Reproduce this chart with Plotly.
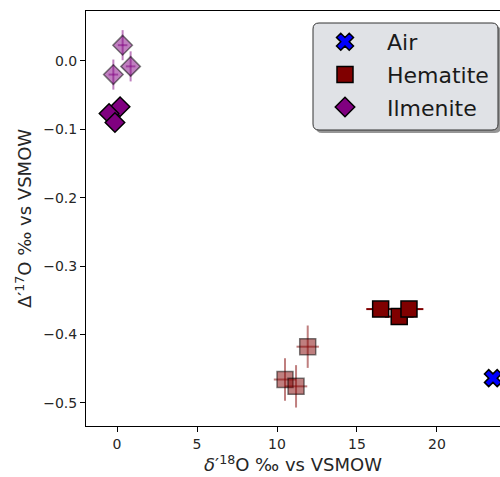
import plotly.graph_objects as go

# ---- data ----
air_x = [23.5]
air_y = [-0.464]

hem_x = [16.48, 17.64, 18.25]
hem_y = [-0.363, -0.374, -0.363]
hem_xerr = [0.9, 0.9, 0.9]
hem_yerr = [0.005, 0.005, 0.005]

hem_lt_x = [11.92, 10.50, 11.19]
hem_lt_y = [-0.418, -0.466, -0.476]
hem_lt_xerr = [0.7, 0.7, 0.7]
hem_lt_yerr = [0.031, 0.031, 0.031]

ilm_x = [0.19, -0.50, -0.13]
ilm_y = [-0.067, -0.077, -0.090]

ilm_lt_x = [0.35, -0.23, 0.85]
ilm_lt_y = [0.023, -0.020, -0.008]
ilm_lt_xerr = [0.3, 0.3, 0.3]
ilm_lt_yerr = [0.022, 0.022, 0.022]

x_ticks = [0, 5, 10, 15, 20]
y_ticks = [0.0, -0.1, -0.2, -0.3, -0.4, -0.5]
y_tick_labels = ["0.0", "\u22120.1", "\u22120.2", "\u22120.3", "\u22120.4", "\u22120.5"]

FONT = "DejaVu Sans"
fig = go.Figure()

# light (transparent) hematite
fig.add_trace(go.Scatter(
    x=hem_lt_x, y=hem_lt_y, mode="markers", showlegend=False,
    error_x=dict(type="data", array=hem_lt_xerr, color="rgba(128,0,0,0.5)", thickness=2, width=0),
    error_y=dict(type="data", array=hem_lt_yerr, color="rgba(128,0,0,0.5)", thickness=2, width=0),
    marker=dict(symbol="square", size=16, color="rgba(128,0,0,0.5)",
                line=dict(color="rgba(0,0,0,0.5)", width=1.5)),
))
# light ilmenite
fig.add_trace(go.Scatter(
    x=ilm_lt_x, y=ilm_lt_y, mode="markers", showlegend=False,
    error_x=dict(type="data", array=ilm_lt_xerr, color="rgba(128,0,128,0.5)", thickness=2, width=0),
    error_y=dict(type="data", array=ilm_lt_yerr, color="rgba(128,0,128,0.5)", thickness=2, width=0),
    marker=dict(symbol="diamond", size=15, color="rgba(128,0,128,0.5)",
                line=dict(color="rgba(0,0,0,0.5)", width=1.5)),
))
# Air
fig.add_trace(go.Scatter(
    x=air_x, y=air_y, mode="markers", name="Air", legendgroup="a",
    marker=dict(symbol="x", size=15, color="#0000ff", line=dict(color="black", width=1.5)),
))
# Hematite
fig.add_trace(go.Scatter(
    x=hem_x, y=hem_y, mode="markers", name="Hematite", legendgroup="h",
    error_x=dict(type="data", array=hem_xerr, color="#800000", thickness=2, width=0),
    error_y=dict(type="data", array=hem_yerr, color="#800000", thickness=2, width=0),
    marker=dict(symbol="square", size=16, color="#800000", line=dict(color="black", width=1.5)),
))
# Ilmenite
fig.add_trace(go.Scatter(
    x=ilm_x, y=ilm_y, mode="markers", name="Ilmenite", legendgroup="i",
    marker=dict(symbol="diamond", size=15, color="#800080", line=dict(color="black", width=1.5)),
))

# plot-area geometry in pixels (for legend box)
L, T, W, H = 86, 11, 414, 415
def px(xp): return (xp - L) / W
def py(yp): return (T + H - yp) / H

def rrect(x0, y0, x1, y1, r):
    rx, ry = r / W, r / H
    X0, X1, Y0, Y1 = px(x0), px(x1), py(y1), py(y0)  # Y0 bottom, Y1 top
    return (f"M {X0+rx},{Y1} L {X1-rx},{Y1} Q {X1},{Y1} {X1},{Y1-ry} "
            f"L {X1},{Y0+ry} Q {X1},{Y0} {X1-rx},{Y0} L {X0+rx},{Y0} "
            f"Q {X0},{Y0} {X0},{Y0+ry} L {X0},{Y1-ry} Q {X0},{Y1} {X0+rx},{Y1} Z")

shapes = [
    dict(type="path", xref="paper", yref="paper", layer="above",
         path=rrect(316, 26, 501, 133, 6), fillcolor="rgba(80,80,80,0.6)", line=dict(width=0)),
    dict(type="path", xref="paper", yref="paper", layer="above",
         path=rrect(313, 23, 498, 130, 6), fillcolor="#e0e2e6", line=dict(color="#333333", width=1)),
]

fig.update_layout(
    width=500, height=477,
    margin=dict(l=L, r=0, t=T, b=477 - T - H, autoexpand=False),
    paper_bgcolor="white", plot_bgcolor="white",
    font=dict(family=FONT, color="#262626", size=14),
    shapes=shapes,
    showlegend=True,
    legend=dict(x=px(303), y=py(21), xanchor="left", yanchor="top",
                bgcolor="rgba(0,0,0,0)", borderwidth=0,
                font=dict(family=FONT, size=22, color="#1a1a1a"),
                itemwidth=74, tracegroupgap=1, traceorder="grouped"),
)
fig.update_xaxes(
    range=[-1.94, 23.94], tickvals=x_ticks, ticks="outside", ticklen=5, tickwidth=1,
    tickcolor="black", showline=True, linecolor="black", linewidth=1, mirror=True,
    showgrid=False, zeroline=False, tickfont=dict(size=14), automargin=False,
    title=dict(text="<i>δ</i>\u2032<sup>18</sup>O \u2030 vs VSMOW", font=dict(size=18), standoff=4),
)
fig.update_yaxes(
    range=[-0.534, 0.073], tickvals=y_ticks, ticktext=y_tick_labels, ticks="outside",
    ticklen=5, tickwidth=1, tickcolor="black", showline=True, linecolor="black",
    linewidth=1, mirror=False, showgrid=False, zeroline=False, tickfont=dict(size=14),
    automargin=False,
    title=dict(text="Δ\u2032<sup>17</sup>O \u2030 vs VSMOW", font=dict(size=18), standoff=6),
)

fig.write_html("out.html", config={"displayModeBar": False},
               post_script="document.body.style.margin='0';")
